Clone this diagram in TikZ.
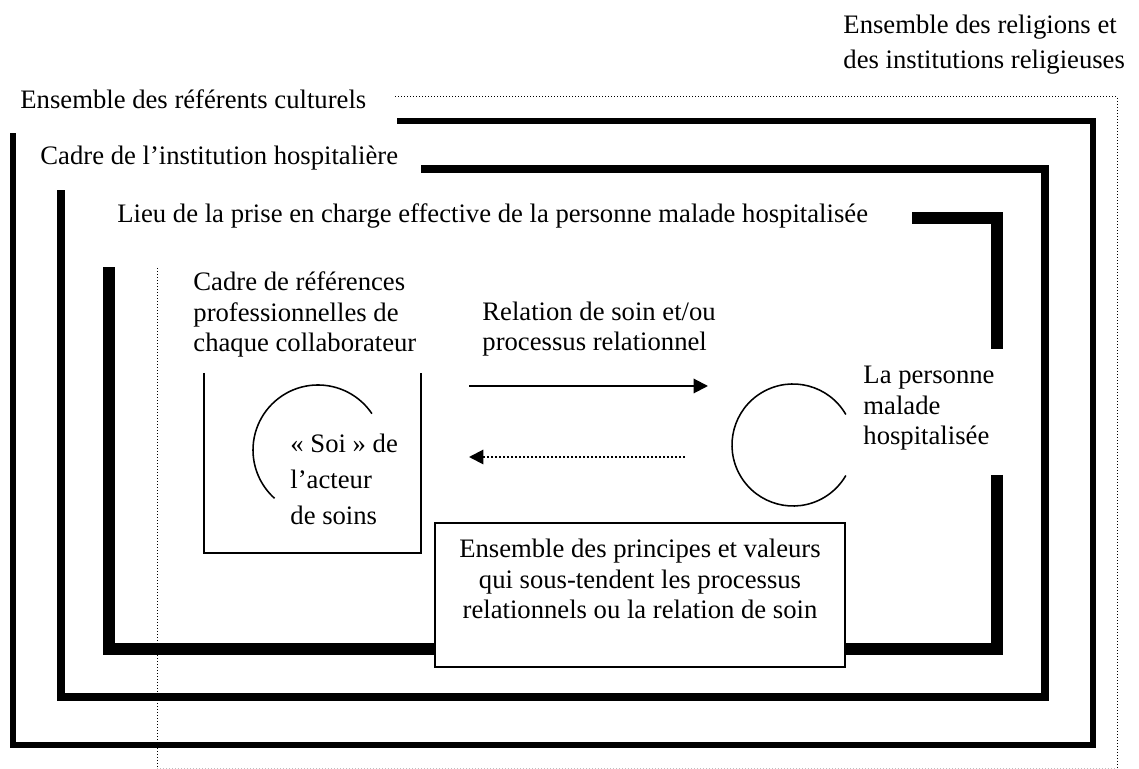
\documentclass[tikz,border=0pt]{standalone}
\usepackage{fontspec}
\setmainfont{Liberation Serif}
\usetikzlibrary{arrows.meta}

\begin{document}
\begin{tikzpicture}[x=0.45pt,y=-0.45pt,
		txt/.style={inner sep=0pt,anchor=base west,align=left,font=\fontsize{12}{13.9}\selectfont},
		cadre/.style={line cap=butt,line join=miter},
		pointille/.style={line width=0.45pt,dash pattern=on 0.45pt off 0.9pt},
		mince/.style={line width=0.7pt},
		fleche/.style={line width=0.9pt,-{Triangle[length=6.5pt,width=6.5pt]}}]
		\useasboundingbox (0,0) rectangle (1139,769);

		% les cadres emboites
		\draw[pointille] (395,97) -- (1117,97) -- (1117,768);
		\draw[pointille] (157,268) -- (157,768);
		\draw[pointille,gray!50] (157,768) -- (1117,768);
		\draw[cadre,line width=2.7pt] (397,121) -- (1093,121) -- (1093,745) -- (13,745) -- (13,133);
		\draw[cadre,line width=3.6pt] (421,169.5) -- (1045,169.5) -- (1045,697) -- (61,697) -- (61,190);
		\draw[cadre,line width=5.4pt] (912,218) -- (997,218) -- (997,349);
		\draw[cadre,line width=5.4pt] (997,475) -- (997,649) -- (109,649) -- (109,267);

		% (base des noeuds sur plusieurs lignes = derniere ligne)
		\node[txt,font=\fontsize{12}{15.8}\selectfont] (religions) at (843,69) {Ensemble des religions et\\des institutions religieuses};
		\node[txt] (culturels) at (20,109) {Ensemble des r\'ef\'erents culturels};
		\node[txt] (institution) at (40,165) {Cadre de l'institution hospitali\`ere};
		\node[txt] (lieu) at (117,223) {Lieu de la prise en charge effective de la personne malade hospitalis\'ee};

		% l'acteur de soins
		\node[txt] (references) at (193,352) {Cadre de r\'ef\'erences\\professionnelles de\\chaque collaborateur};
		\draw[mince] (204,373) -- (204,553) -- (421,553) -- (421,373);
		\coordinate (soi) at (318,450);
		\draw[mince] (soi) ++(34:29.25pt) arc[start angle=34,end angle=228,radius=29.25pt];
		\node[txt,font=\fontsize{12}{16.2}\selectfont] (acteur) at (290,525) {\guillemotleft~Soi~\guillemotright{} de\\l'acteur\\de soins};

		% la relation
		\node[txt] (relation) at (482,351) {Relation de soin et/ou\\processus relationnel};
		\coordinate (aller a) at (469,386);
		\coordinate (aller b) at (708,386);
		\draw[fleche] (aller a) -- (aller b);
		\coordinate (retour a) at (685,457);
		\coordinate (retour b) at (469,457);
		\draw[fleche,dash pattern=on 0.9pt off 0.9pt] (retour a) -- (retour b);

		% la personne malade
		\coordinate (malade) at (793,445);
		\draw[mince] (malade) ++(30:27.45pt) arc[start angle=30,end angle=330,radius=27.45pt];
		\node[txt] (personne) at (863,445) {La personne\\malade\\hospitalis\'ee};

		% principes et valeurs
		\node[draw,mince,fill=white,inner sep=0pt,minimum width=184.5pt,minimum height=64.8pt] (principes) at (640,595) {};
		\node[txt,anchor=base,align=center] (valeurs) at (640,619) {Ensemble des principes et valeurs\\qui sous-tendent les processus\\relationnels ou la relation de soin};
\end{tikzpicture}
\end{document}
